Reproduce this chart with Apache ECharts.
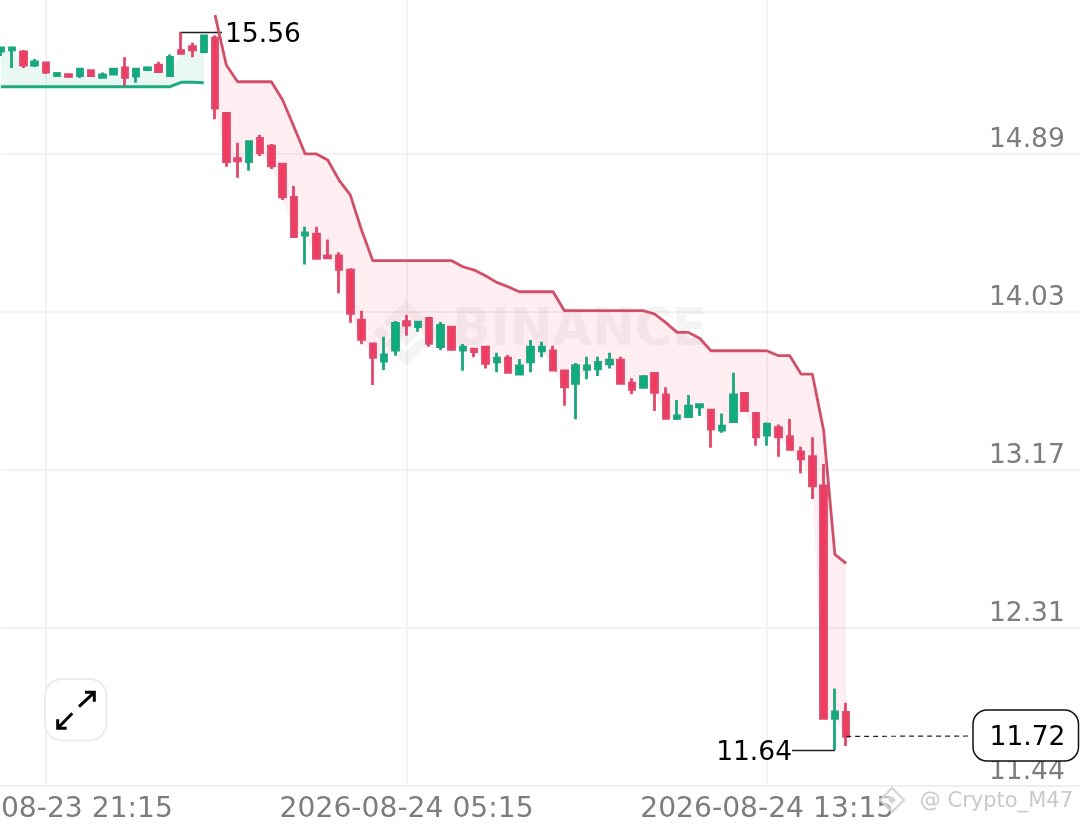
<!DOCTYPE html>
<html><head><meta charset="utf-8">
<style>html,body{margin:0;padding:0;background:#fff}#c{width:1080px;height:826px}</style>
<script src="https://cdn.jsdelivr.net/npm/echarts@6/dist/echarts.min.js"></script>
</head><body><div id="c"></div>
<script>
// [open, close, low, high]
const candles = [
[15.450,15.467,15.423,15.467],[15.456,15.467,15.358,15.467],[15.445,15.374,15.358,15.456],[15.374,15.391,15.363,15.407],
[15.385,15.336,15.325,15.385],[15.317,15.328,15.317,15.328],[15.322,15.312,15.312,15.322],[15.317,15.352,15.303,15.352],
[15.344,15.317,15.317,15.344],[15.307,15.320,15.307,15.334],[15.325,15.352,15.325,15.352],[15.359,15.307,15.260,15.416],
[15.314,15.351,15.278,15.351],[15.349,15.359,15.349,15.359],[15.373,15.338,15.338,15.392],[15.316,15.416,15.316,15.432],
[15.452,15.438,15.438,15.555],[15.474,15.456,15.416,15.496],[15.447,15.532,15.438,15.532],[15.520,15.139,15.079,15.535],
[15.111,14.848,14.821,15.111],[14.864,14.853,14.761,14.951],[14.848,14.957,14.799,14.957],[14.975,14.897,14.879,14.993],
[14.933,14.826,14.808,14.944],[14.834,14.657,14.639,14.834],[14.654,14.440,14.440,14.716],[14.449,14.461,14.289,14.494],
[14.454,14.322,14.322,14.494],[14.335,14.324,14.324,14.425],[14.335,14.262,14.132,14.355],[14.258,14.023,13.972,14.268],
[13.986,13.881,13.854,14.037],[13.856,13.783,13.632,13.856],[13.763,13.796,13.714,13.895],[13.823,13.968,13.792,13.981],
[13.977,13.959,13.901,14.013],[13.950,13.975,13.923,13.975],[13.995,13.859,13.841,13.995],[13.841,13.957,13.823,13.975],
[13.947,13.827,13.819,13.947],[13.823,13.838,13.710,13.856],[13.827,13.814,13.783,13.827],[13.838,13.751,13.723,13.838],
[13.759,13.778,13.702,13.808],[13.778,13.702,13.702,13.796],[13.692,13.736,13.692,13.774],[13.759,13.838,13.702,13.877],
[13.819,13.838,13.783,13.868],[13.818,13.714,13.714,13.846],[13.709,13.623,13.520,13.709],[13.642,13.738,13.446,13.752],
[13.718,13.736,13.664,13.786],[13.720,13.756,13.681,13.786],[13.747,13.768,13.723,13.808],[13.768,13.642,13.642,13.786],
[13.642,13.609,13.582,13.669],[13.620,13.678,13.620,13.687],[13.696,13.593,13.491,13.696],[13.578,13.451,13.451,13.620],
[13.451,13.464,13.442,13.551],[13.460,13.518,13.460,13.578],[13.514,13.525,13.464,13.525],[13.496,13.393,13.291,13.496],
[13.387,13.409,13.373,13.478],[13.433,13.578,13.433,13.699],[13.587,13.493,13.493,13.587],[13.478,13.351,13.302,13.478],
[13.360,13.420,13.302,13.429],[13.400,13.351,13.242,13.418],[13.351,13.282,13.282,13.447],[13.269,13.230,13.152,13.297],
[13.242,13.083,13.012,13.348],[13.083,11.818,11.818,13.202],[11.818,11.853,11.646,11.981],[11.851,11.720,11.668,11.903]
];
// supertrend, candle index 0..18 (up) and 19..75 (down)
const upTrend = [15.256,15.256,15.256,15.256,15.256,15.256,15.256,15.256,15.256,15.256,15.256,15.256,15.256,15.256,15.256,15.256,15.280,15.280,15.278];
const downTrend = [15.646,15.374,15.283,15.283,15.283,15.283,15.184,15.038,14.890,14.890,14.857,14.748,14.667,14.476,14.309,14.309,14.309,14.309,14.309,14.309,14.309,14.309,14.276,14.258,14.227,14.191,14.167,14.140,14.140,14.140,14.140,14.037,14.037,14.037,14.037,14.037,14.037,14.037,14.037,14.019,13.972,13.919,13.919,13.887,13.819,13.819,13.819,13.819,13.819,13.818,13.792,13.792,13.692,13.692,13.387,12.711,12.662];
const yTickValues = [11.45,12.31,13.17,14.03,14.89];
const yTickLabels = ['11.44','12.31','13.17','14.03','14.89'];
const xTickIndex = [4,36,68];
const highLabel = '15.56', lowLabel = '11.64', lastLabel = '11.72';
const highValue = 15.555, lowValue = 11.646, lastValue = 11.72;

const FONT = '"DejaVu Sans"';
const GREY = '#7d7d7d';
const RED = '#f5385c', GREEN = '#08b07c';
const N = 97;
const categories = [];
for (let i=0;i<N;i++){
  const d = new Date(Date.UTC(2026,7,23,20,15+15*i));
  const p = n=>String(n).padStart(2,'0');
  categories.push(`${d.getUTCFullYear()}-${p(d.getUTCMonth()+1)}-${p(d.getUTCDate())} ${p(d.getUTCHours())}:${p(d.getUTCMinutes())}`);
}
const bodyBottom = candles.map(c=>Math.min(c[0],c[1]));
const pad = (arr,start)=>categories.map((_,i)=>{const v=arr[i-start];return v===undefined?null:v;});
const upLine = pad(upTrend,0), downLine = pad(downTrend,19);
const upDiff = upLine.map((v,i)=>v==null?null:bodyBottom[i]-v);
const downBase = downLine.map((v,i)=>v==null?null:bodyBottom[i]);
const downDiff = downLine.map((v,i)=>v==null?null:v-bodyBottom[i]);
const isTick = i=>xTickIndex.includes(i);
const hidden = {showSymbol:false,symbol:'none',lineStyle:{width:0,opacity:0},silent:true};

const G = 'rgba(130,130,130,0.09)';
const poly = pts=>({type:'polygon',z:1,shape:{points:pts},style:{fill:G}});
const option = {
  animation:false,
  backgroundColor:'#fff',
  grid:{left:0.9,right:-2.8,top:0,bottom:40,outerBoundsMode:'none',containLabel:false},
  xAxis:{type:'category',data:categories,boundaryGap:false,
    axisLine:{show:true,lineStyle:{color:'#eeeeee',width:1.5}},axisTick:{show:false},
    axisLabel:{interval:(i)=>isTick(i),color:GREY,fontFamily:FONT,fontSize:28.2,margin:10,hideOverlap:false},
    splitLine:{show:true,interval:(i)=>isTick(i),lineStyle:{color:'#efefef',width:1.5}}},
  yAxis:{type:'value',position:'right',min:11.45,max:15.728,scale:true,
    axisLine:{show:false},axisTick:{show:false,customValues:yTickValues},
    axisLabel:{customValues:yTickValues,inside:true,margin:18,color:GREY,fontFamily:FONT,fontSize:26.5,verticalAlign:'bottom',
      formatter:v=>{const k=yTickValues.findIndex(t=>Math.abs(t-v)<1e-6);return k<0?'':yTickLabels[k];}},
    splitLine:{show:true,lineStyle:{color:'#efefef',width:1.5}}},
  graphic:{elements:[
    {type:'text',z:1,style:{x:452,y:332,text:'BINANCE',fill:G,font:`bold 51px ${FONT}`,textVerticalAlign:'middle'}},
    poly([[406,319],[420,333],[406,347],[392,333]]),
    poly([[373,333],[381,325],[389,333],[381,341]]),
    poly([[423,333],[431,325],[439,333],[431,341]]),
    poly([[406,300],[428,322],[421,329],[406,314],[391,329],[384,322]]),
    poly([[406,366],[428,344],[421,337],[406,352],[391,337],[384,344]]),
    {type:'rect',z:50,shape:{x:45,y:679,width:61.5,height:61.5,r:17},style:{fill:'#fff',stroke:'#ececec',lineWidth:2}},
    {type:'polyline',z:51,shape:{points:[[79,706.7],[94.3,692.3]]},style:{stroke:'#000',lineWidth:3,fill:null}},
    {type:'polyline',z:51,shape:{points:[[85,692.3],[94.3,692.3],[94.3,701.7]]},style:{stroke:'#000',lineWidth:3,fill:null}},
    {type:'polyline',z:51,shape:{points:[[72.3,713.3],[57.7,728.3]]},style:{stroke:'#000',lineWidth:3,fill:null}},
    {type:'polyline',z:51,shape:{points:[[57.7,719.3],[57.7,728.3],[66.7,728.3]]},style:{stroke:'#000',lineWidth:3,fill:null}},
    {type:'rect',z:60,shape:{x:973,y:710,width:105.5,height:51,r:14},style:{fill:'#fff',stroke:'#111',lineWidth:1.5}},
    {type:'text',z:61,style:{x:1027.5,y:738,text:lastLabel,fill:'#000',font:`26.5px ${FONT}`,textAlign:'center',textVerticalAlign:'middle'}},
    {type:'text',z:62,style:{x:1073,y:802,text:'@ Crypto_M47',fill:'#c9c9c9',font:`21px ${FONT}`,textAlign:'right',textVerticalAlign:'middle'}},
    {type:'polygon',z:62,shape:{points:[[892,788],[904,800],[892,812],[880,800]]},style:{fill:'rgba(255,255,255,0.5)',stroke:'#d2d2d2',lineWidth:2}},
    {type:'polygon',z:62,shape:{points:[[892,796],[896,800],[892,804],[888,800]]},style:{fill:'#d2d2d2'}}
  ]},
  series:[
    Object.assign({name:'upBase',type:'line',stack:'up',data:upLine},hidden),
    Object.assign({name:'upFill',type:'line',stack:'up',data:upDiff,areaStyle:{color:'rgba(12,173,125,0.13)'}},hidden),
    Object.assign({name:'downBase',type:'line',stack:'down',data:downBase},hidden),
    Object.assign({name:'downFill',type:'line',stack:'down',data:downDiff,areaStyle:{color:'rgba(242,60,92,0.12)'}},hidden),
    {name:'kline',type:'candlestick',data:candles,barWidth:6,z:4,clip:false,
      itemStyle:{color:GREEN,color0:RED,borderColor:'#1aa67e',borderColor0:'#e2466a',borderWidth:2.8},
      markLine:{silent:true,symbol:'none',animation:false,
        data:[
          [{coord:[16,highValue],lineStyle:{color:'#222',width:1.3,type:'solid'},label:{show:true,position:'end',distance:3,offset:[0,3],formatter:highLabel,color:'#000',fontFamily:FONT,fontSize:26.5}},{x:222,y:32}],
          [{coord:[74,lowValue],lineStyle:{color:'#222',width:1.3,type:'solid'},label:{show:true,position:'end',distance:0,offset:[0,3],formatter:lowLabel,color:'#000',fontFamily:FONT,fontSize:26.5}},{x:792,y:750}],
          [{coord:[75,lastValue],lineStyle:{color:'#222',width:1.2,type:[5,4]},label:{show:false}},{x:972,y:736}]
        ]}},
    {name:'supertrendUp',type:'line',data:upLine,showSymbol:false,symbol:'none',z:5,lineStyle:{color:'#1fa982',width:3}},
    {name:'supertrendDown',type:'line',data:downLine,showSymbol:false,symbol:'none',z:5,lineStyle:{color:'#d14f69',width:2.8}}
  ]
};
const chart = echarts.init(document.getElementById('c'),null,{renderer:'canvas'});
chart.setOption(option);
</script></body></html>
